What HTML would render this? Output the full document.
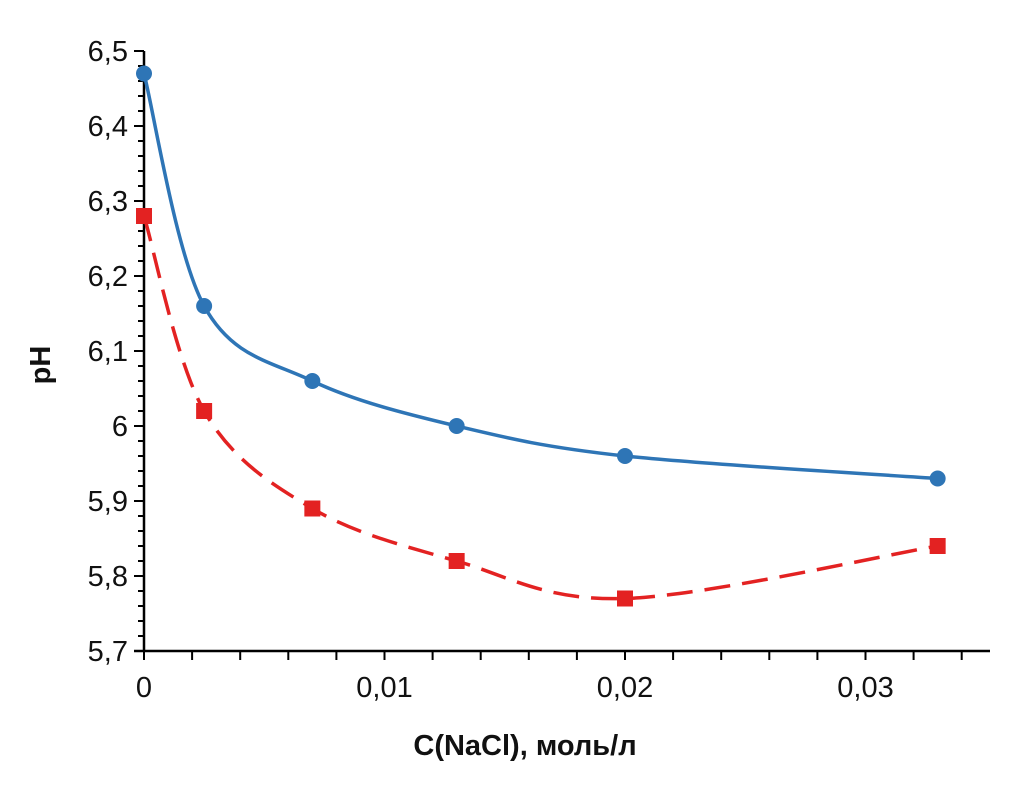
<!DOCTYPE html>
<html><head><meta charset="utf-8"><style>
body{margin:0;background:#fff}
svg text{font-family:"Liberation Sans",Arial,sans-serif;fill:#111}
</style></head><body>
<svg id="chart" width="1010" height="781" viewBox="0 0 1010 781" xmlns="http://www.w3.org/2000/svg">
<g id="axes"></g><g id="series"></g>
<text x="0" y="0" transform="translate(50,365) rotate(-90)" text-anchor="middle" font-size="29" font-weight="bold">pH</text>
<text x="525" y="755" text-anchor="middle" font-size="29" font-weight="bold">C(NaCl), моль/л</text>
</svg>
<script>
const xValues=[0,0.0025,0.007,0.013,0.02,0.033];
const blueValues=[6.47,6.16,6.06,6.00,5.96,5.93];
const redValues=[6.28,6.02,5.89,5.82,5.77,5.84];
const yTicks=[5.7,5.8,5.9,6.0,6.1,6.2,6.3,6.4,6.5];
const yTickLabels=["5,7","5,8","5,9","6","6,1","6,2","6,3","6,4","6,5"];
const xTicks=[0,0.01,0.02,0.03];
const xTickLabels=["0","0,01","0,02","0,03"];
const NS="http://www.w3.org/2000/svg";
const X0=144,XS=24050,Y0=651,YB=5.7,YS=750;
const sx=v=>X0+v*XS, sy=v=>Y0-(v-YB)*YS;
function mk(t,a,p){const e=document.createElementNS(NS,t);for(const k in a)e.setAttribute(k,a[k]);p.appendChild(e);return e;}
const ax=document.getElementById('axes'),sr=document.getElementById('series');
let l=mk('line',{x1:X0,y1:sy(6.5),x2:X0,y2:Y0,stroke:'#000','stroke-width':2.5},ax);


l=mk('line',{x1:X0-10,y1:Y0,x2:990,y2:Y0,stroke:'#000','stroke-width':2.5},ax);


for(let i=0;i<=40;i++){const v=5.7+i*0.02;const maj=i%5==0;mk('line',{x1:X0-(maj?10:6),x2:X0,y1:sy(v),y2:sy(v),stroke:'#000','stroke-width':2},ax);}
for(let i=0;i<=17;i++){const v=i*0.002;mk('line',{x1:sx(v),x2:sx(v),y1:Y0,y2:Y0+9,stroke:'#000','stroke-width':2},ax);}
yTicks.forEach((v,i)=>{const t=mk('text',{x:X0-16,y:sy(v)+10,'text-anchor':'end','font-size':29},ax);t.textContent=yTickLabels[i];

});
xTicks.forEach((v,i)=>{const t=mk('text',{x:sx(v),y:Y0+46,'text-anchor':'middle','font-size':29},ax);t.textContent=xTickLabels[i];

});
function spline(pts){let d=`M${pts[0][0]},${pts[0][1]}`;for(let i=0;i<pts.length-1;i++){const p0=pts[i-1]||pts[i],p1=pts[i],p2=pts[i+1],p3=pts[i+2]||p2;const k=1/6;
d+=`C${p1[0]+(p2[0]-p0[0])*k},${p1[1]+(p2[1]-p0[1])*k} ${p2[0]-(p3[0]-p1[0])*k},${p2[1]-(p3[1]-p1[1])*k} ${p2[0]},${p2[1]}`;}return d;}
const bp=xValues.map((x,i)=>[sx(x),sy(blueValues[i])]),rp=xValues.map((x,i)=>[sx(x),sy(redValues[i])]);
let p=mk('path',{d:spline(bp),fill:'none',stroke:'#2E75B6','stroke-width':3.5},sr);


p=mk('path',{d:spline(rp),fill:'none',stroke:'#E32222','stroke-width':3.5,'stroke-dasharray':'26 12'},sr);


bp.forEach(q=>{const c=mk('circle',{cx:q[0],cy:q[1],r:8,fill:'#2E75B6'},sr);

});
rp.forEach(q=>{const r=mk('rect',{x:q[0]-8,y:q[1]-8,width:16,height:16,fill:'#E32222'},sr);

});
</script>
</body></html>
